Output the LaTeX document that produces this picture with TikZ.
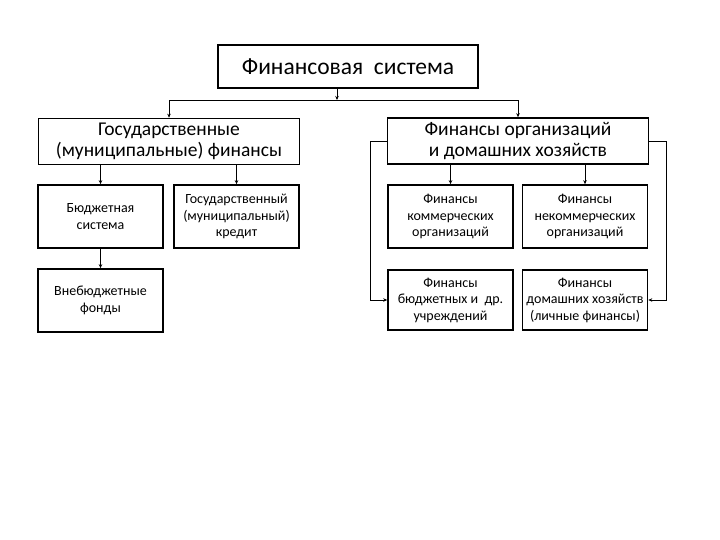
\documentclass[tikz,border=0pt]{standalone}
\usepackage{fontspec}
\setmainfont{Carlito}
\usetikzlibrary{arrows.meta,calc}
\tikzset{every scope/.style={>={Stealth[length=4pt,width=3.5pt]}}}
\tikzstyle{top_box} =
  [ rectangle
  , draw
  , line width=1.6pt
  , minimum width=260pt
  , minimum height=43pt
  , font=\fontsize{23.5}{26}\selectfont
  ]
\tikzstyle{main_box} =
  [ rectangle
  , draw
  , line width=1.6pt
  , minimum width=261pt
  , minimum height=46pt
  , align=center
  , font=\fontsize{19.5}{21}\selectfont
  ]
\tikzstyle{sub_box} =
  [ rectangle
  , draw
  , line width=1.6pt
  , minimum width=125pt
  , minimum height=63pt
  , align=center
  , font=\fontsize{14}{16.5}\selectfont
  ]
\tikzstyle{link} = [line width=0.9pt]
\def\FinSystem{Финансовая\ \ система}
\def\GosFin{Государственные\\(муниципальные) финансы}
\def\OrgFin{Финансы организаций\\и домашних хозяйств}
\def\BudgSys{Бюджетная\\система}
\def\GosCredit{Государственный\\(муниципальный)\\кредит}
\def\OffBudget{Внебюджетные\\фонды}
\def\CommFin{Финансы\\коммерческих\\организаций}
\def\NonCommFin{Финансы\\некоммерческих\\организаций}
\def\InstFin{Финансы\\бюджетных и\ \ др.\\учреждений}
\def\HouseFin{Финансы\\домашних хозяйств\\(личные финансы)}

\begin{document}
\begin{tikzpicture}[x=1pt,y=-1pt]
    \useasboundingbox (0,0) rectangle (720,540);

    \node[top_box]  (FinSystem) at (348, 66.5)  {\FinSystem};
    \node[main_box] (GosFin)    at (169, 141.5) {\GosFin};
    \node[main_box] (OrgFin)    at (518, 141)   {\OrgFin};
    \node[sub_box]  (BudgSys)   at (100.5, 216.5) {\BudgSys};
    \node[sub_box]  (GosCredit) at (236.5, 216.5) {\GosCredit};
    \node[sub_box]  (OffBudget) at (100.5, 300.5) {\OffBudget};
    \node[sub_box]  (CommFin)   at (450.5, 216.5) {\CommFin};
    \node[sub_box]  (NonCommFin) at (585, 216.5)  {\NonCommFin};
    \node[sub_box, minimum height=60pt] (InstFin)  at (450.5, 300) {\InstFin};
    \node[sub_box, minimum height=60pt] (HouseFin) at (585, 300)   {\HouseFin};

    \coordinate (split) at (337, 100);

    \draw[->, link] (FinSystem.south -| split) -- (split);
    \draw[->, link] (split) -| (GosFin.north);
    \draw[->, link] (split) -| (OrgFin.north);

    \draw[->, link] (BudgSys.north |- GosFin.south)   -- (BudgSys.north);
    \draw[->, link] (GosCredit.north |- GosFin.south) -- (GosCredit.north);
    \draw[->, link] (BudgSys.south) -- (OffBudget.north);

    \draw[->, link] (CommFin.north |- OrgFin.south)    -- (CommFin.north);
    \draw[->, link] (NonCommFin.north |- OrgFin.south) -- (NonCommFin.north);
    \draw[->, link] (OrgFin.west) -- ++(-16,0) |- (InstFin.west);
    \draw[->, link] (OrgFin.east) -- ++(17,0)  |- (HouseFin.east);
  \end{tikzpicture}
\end{document}
